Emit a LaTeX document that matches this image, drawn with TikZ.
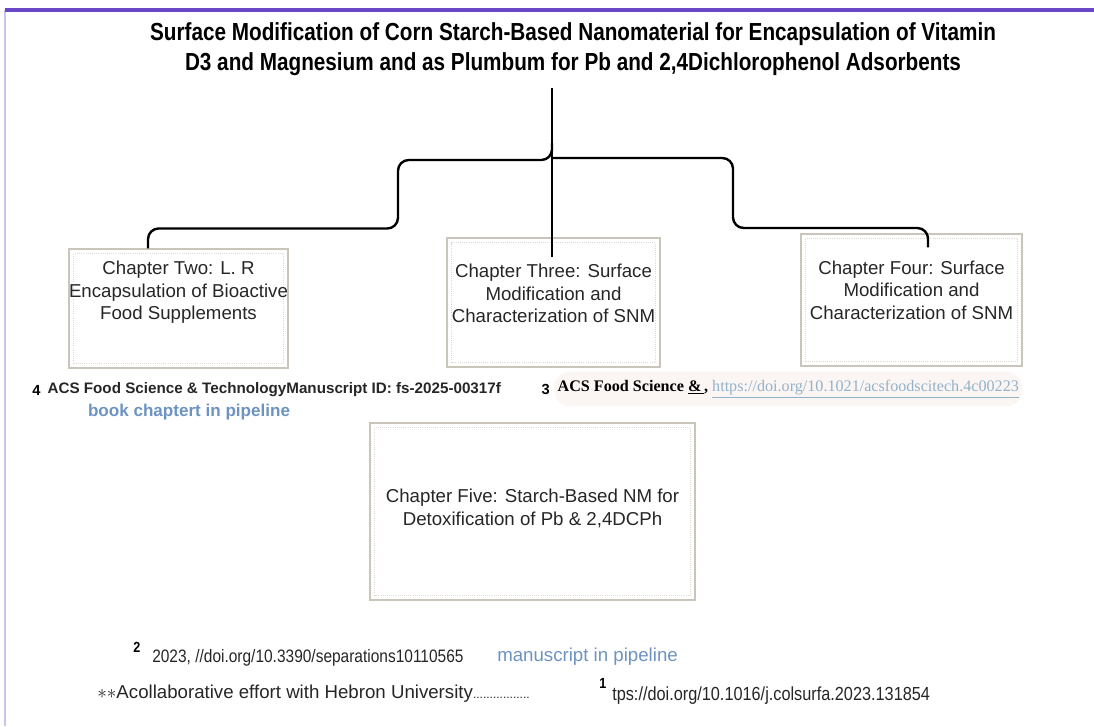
\documentclass[tikz,border=0pt]{standalone}
\usepackage{fontspec}
\setmainfont{Liberation Sans}
\newfontfamily\titlesf[FakeStretch=0.84]{Liberation Sans}
\newfontfamily\narrowsf[FakeStretch=0.86]{Liberation Sans}
\newfontfamily\refserif{Liberation Serif}
\usetikzlibrary{positioning,calc}

\definecolor{framepurple}{HTML}{6A47C6}
\definecolor{edgepurple}{HTML}{CDC2EF}
\definecolor{boxline}{HTML}{C9C5BA}
\definecolor{boxdots}{HTML}{DCD9D0}
\definecolor{pipeblue}{HTML}{6C93C2}
\definecolor{linkblue}{HTML}{92B3C9}
\definecolor{refbg}{HTML}{FBF5F4}

\tikzset{
  chapbox/.style n args={2}{draw=boxline, line width=0.8pt, minimum width=#1, minimum height=#2,
    path picture={\draw[boxdots, densely dotted, line width=0.6pt]
      ([shift={(3.5pt,3.5pt)}]path picture bounding box.south west) rectangle
      ([shift={(-3.5pt,-3.5pt)}]path picture bounding box.north east);}},
  chaptext/.style={align=center, font=\fontsize{14}{16.9}\selectfont, text=black!85},
  branch/.style={line width=1.8pt, rounded corners=8pt},
  reftext/.style={anchor=west, inner sep=0pt, font=\narrowsf\fontsize{13.5}{16}\selectfont, text=black!85},
  supnum/.style={anchor=west, inner sep=0pt, font=\narrowsf\bfseries\fontsize{11}{13}\selectfont}
}

\begin{document}
\begin{tikzpicture}[x=0.75pt, y=-0.75pt]
\useasboundingbox (0,0) rectangle (1094,726);

% frame
\draw[edgepurple, line width=1.2pt] (5,10) -- (5,726);
\draw[framepurple, line width=2.5pt] (5,10) -- (1094,10);

% title
\node[align=center, font=\titlesf\bfseries\fontsize{18.5}{22.5}\selectfont] (title) at (573,49)
  {Surface Modification of Corn Starch-Based Nanomaterial for Encapsulation of Vitamin\\
   D3 and Magnesium and as Plumbum for Pb and 2,4Dichlorophenol Adsorbents};

% chapters
\node[chapbox={164.25pt}{89.25pt}] (ch2) at (178.5,308.5) {};
\node[chapbox={159.75pt}{96.75pt}] (ch3) at (553.5,302.5) {};
\node[chapbox={165.75pt}{99pt}] (ch4) at (911.5,300) {};
\node[chapbox={243.75pt}{132.75pt}] (ch5) at (532.5,511.5) {};

\node[chaptext] (ch2text) at ($(ch2)+(0,-16)$) {Chapter Two: L. R\\Encapsulation of Bioactive\\Food Supplements};
\node[chaptext] (ch3text) at ($(ch3)+(0,-9)$) {Chapter Three: Surface\\Modification and\\Characterization of SNM};
\node[chaptext] (ch4text) at ($(ch4)+(0,-10)$) {Chapter Four: Surface\\Modification and\\Characterization of SNM};
\node[chaptext] (ch5text) at ($(ch5)+(0,-3)$) {Chapter Five: Starch-Based NM for\\Detoxification of Pb \& 2,4DCPh};

% tree
\coordinate (stemtop) at (552,88);
\coordinate (leftjoin) at (552,143);
\coordinate (rightjoin) at (552,158);
\draw[line width=1.8pt] (stemtop) -- ($(ch3.north)+(-1.5,20)$);
\draw[branch] (leftjoin) |- (398,160) |- ($(ch2.north)+(-30.5,-20)$) -- ($(ch2.north)+(-30.5,0)$);
\draw[branch] (rightjoin) -| (733,228) -| ($(ch4.north)+(16.5,14)$);

% references
\node[supnum, font=\bfseries\fontsize{11}{12}\selectfont] (num4) at (32,390) {4};
\node[anchor=west, inner sep=0pt, font=\bfseries\fontsize{11.4}{13}\selectfont, text=black!85, right=5pt of num4] (ref4)
  {ACS Food Science \& TechnologyManuscript ID: fs-2025-00317f};
\node[font=\bfseries\fontsize{12.8}{14}\selectfont, text=pipeblue] (pipe4) at (189,412) {book chaptert in pipeline};

\node[anchor=west, fill=refbg, rounded corners=12pt, inner xsep=2.5pt, minimum height=26pt,
  font=\refserif\fontsize{12.1}{14}\selectfont] (ref3) at (554,389)
  {\textbf{ACS Food Science \underline{\&\,},} \textcolor{linkblue}{\underline{https://doi.org/10.1021/acsfoodscitech.4c00223}}};
\node[supnum, font=\bfseries\fontsize{11}{12}\selectfont, left=3pt of ref3.west] (num3) {3};

\node[supnum] (num2) at (133,647) {2};
\node[reftext] (ref2) at (152,658) {2023, //doi.org/10.3390/separations10110565};
\node[reftext, font=\fontsize{14}{16}\selectfont, text=pipeblue] (pipe2) at (497,657) {manuscript in pipeline};

\node[reftext, font=\fontsize{14}{16}\selectfont] (collab) at (97,694) {$\ast\ast$Acollaborative effort with Hebron University{\fontsize{9}{10}\selectfont.................}};
\node[supnum] (num1) at (599,683) {1};
\node[reftext, font=\narrowsf\fontsize{14.2}{16}\selectfont] (ref1) at (612,696) {tps://doi.org/10.1016/j.colsurfa.2023.131854};
\end{tikzpicture}
\end{document}
